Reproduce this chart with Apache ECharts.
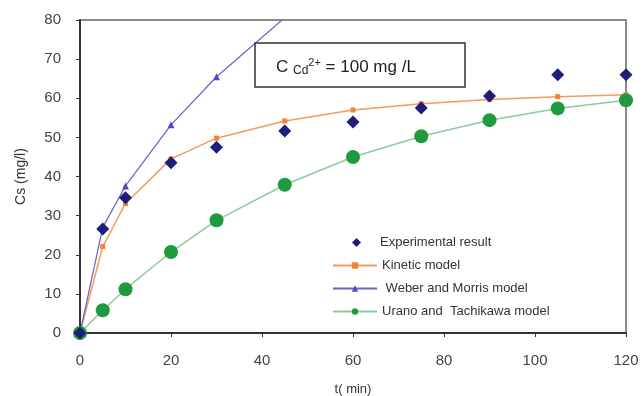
<!DOCTYPE html>
<html><head><meta charset="utf-8">
<script src="https://cdn.jsdelivr.net/npm/echarts@6/dist/echarts.min.js"></script>
<style>html,body{margin:0;padding:0;background:#fff}#c{width:643px;height:396px}</style>
</head><body><div id="c"></div>
<script>
var times = [0,5,10,20,30,45,60,75,90,105,120];
var experimental = [0,26.6,34.6,43.5,47.5,51.6,53.9,57.5,60.6,66,66];
var kinetic = [0,22.1,33.1,44.5,49.8,54.2,57,58.6,59.7,60.4,60.9];
var weberMorris = [0,27,37.6,53.2,65.5,80.6,null,null,null,null,null];
var urano = [0,5.8,11.2,20.7,28.8,37.9,45,50.3,54.4,57.4,59.5];
var xTicks = [0,20,40,60,80,100,120];
var yTicks = [0,10,20,30,40,50,60,70,80];

function pairs(arr){ return times.map(function(t,i){return [t,arr[i]];}).filter(function(p){return p[1]!==null;}); }
var font = 'Arial, "Liberation Sans", sans-serif';
var chart = echarts.init(document.getElementById('c'));
chart.setOption({
  animation:false,
  grid:{left:80,right:17,top:20,bottom:63,show:true,borderColor:'#666',borderWidth:1.5,containLabel:false,outerBoundsMode:'none'},
  xAxis:{type:'value',min:xTicks[0],max:xTicks[xTicks.length-1],interval:20,
    name:'t( min)',nameLocation:'middle',nameGap:50,
    nameTextStyle:{fontFamily:font,fontSize:13,color:'#333'},
    axisLine:{lineStyle:{color:'#333',width:2}},
    axisTick:{show:true,length:4,lineStyle:{color:'#333'}},
    axisLabel:{fontFamily:font,fontSize:15,color:'#444',margin:20},
    splitLine:{show:false}},
  yAxis:{type:'value',min:yTicks[0],max:yTicks[yTicks.length-1],interval:10,
    name:'Cs (mg/l)',nameLocation:'middle',nameGap:52,
    nameTextStyle:{fontFamily:font,fontSize:14,color:'#333'},
    axisLine:{show:true,lineStyle:{color:'#333',width:2}},
    axisTick:{show:true,length:4,lineStyle:{color:'#333'}},
    axisLabel:{fontFamily:font,fontSize:15,color:'#444',margin:19},
    splitLine:{show:false}},
  legend:[
    {orient:'vertical',left:347,top:231,itemWidth:9,itemHeight:9,itemGap:10,
     textStyle:{fontFamily:font,fontSize:13,color:'#333',padding:[0,0,0,14]},
     data:[{name:'Experimental result',icon:'diamond'}]},
    {orient:'vertical',left:327,top:254,itemWidth:44,itemHeight:8,itemGap:10,
     textStyle:{fontFamily:font,fontSize:13,color:'#333'},
     data:['Kinetic model',' Weber and Morris model','Urano and  Tachikawa model']}],
  graphic:[{type:'rect',shape:{x:255,y:43,width:210,height:44},
    style:{fill:'#fff',stroke:'#333',lineWidth:1.5},z:50},
    {type:'text',left:276,top:57,z:51,style:{
      rich:{a:{fontFamily:font,fontSize:17,fill:'#222'},s:{fontFamily:font,fontSize:12,fill:'#222',verticalAlign:'bottom',padding:[8,0,0,0]},p:{fontFamily:font,fontSize:11,fill:'#222',verticalAlign:'top',padding:[0,0,8,0]}},
      text:'{a|C }{s|Cd}{p|2+}{a| = 100 mg /L}'}}],
  series:[
    {name:'Kinetic model',type:'line',data:pairs(kinetic),symbol:'rect',symbolSize:5,
      itemStyle:{color:'#F0823A'},lineStyle:{color:'#F59A5A',width:1.5},z:3},
    {name:' Weber and Morris model',type:'line',data:pairs(weberMorris),symbol:'triangle',symbolSize:7,
      itemStyle:{color:'#4B4BC0'},lineStyle:{color:'#6464C8',width:1.2},z:3},
    {name:'Urano and  Tachikawa model',type:'line',data:pairs(urano),symbol:'circle',symbolSize:14,
      itemStyle:{color:'#1F9A3E'},lineStyle:{color:'#8CCB9E',width:1.5},z:3},
    {name:'Experimental result',type:'scatter',data:pairs(experimental),symbol:'diamond',symbolSize:13,
      itemStyle:{color:'#1E1E78',opacity:1},z:4}
  ]
});
</script></body></html>
